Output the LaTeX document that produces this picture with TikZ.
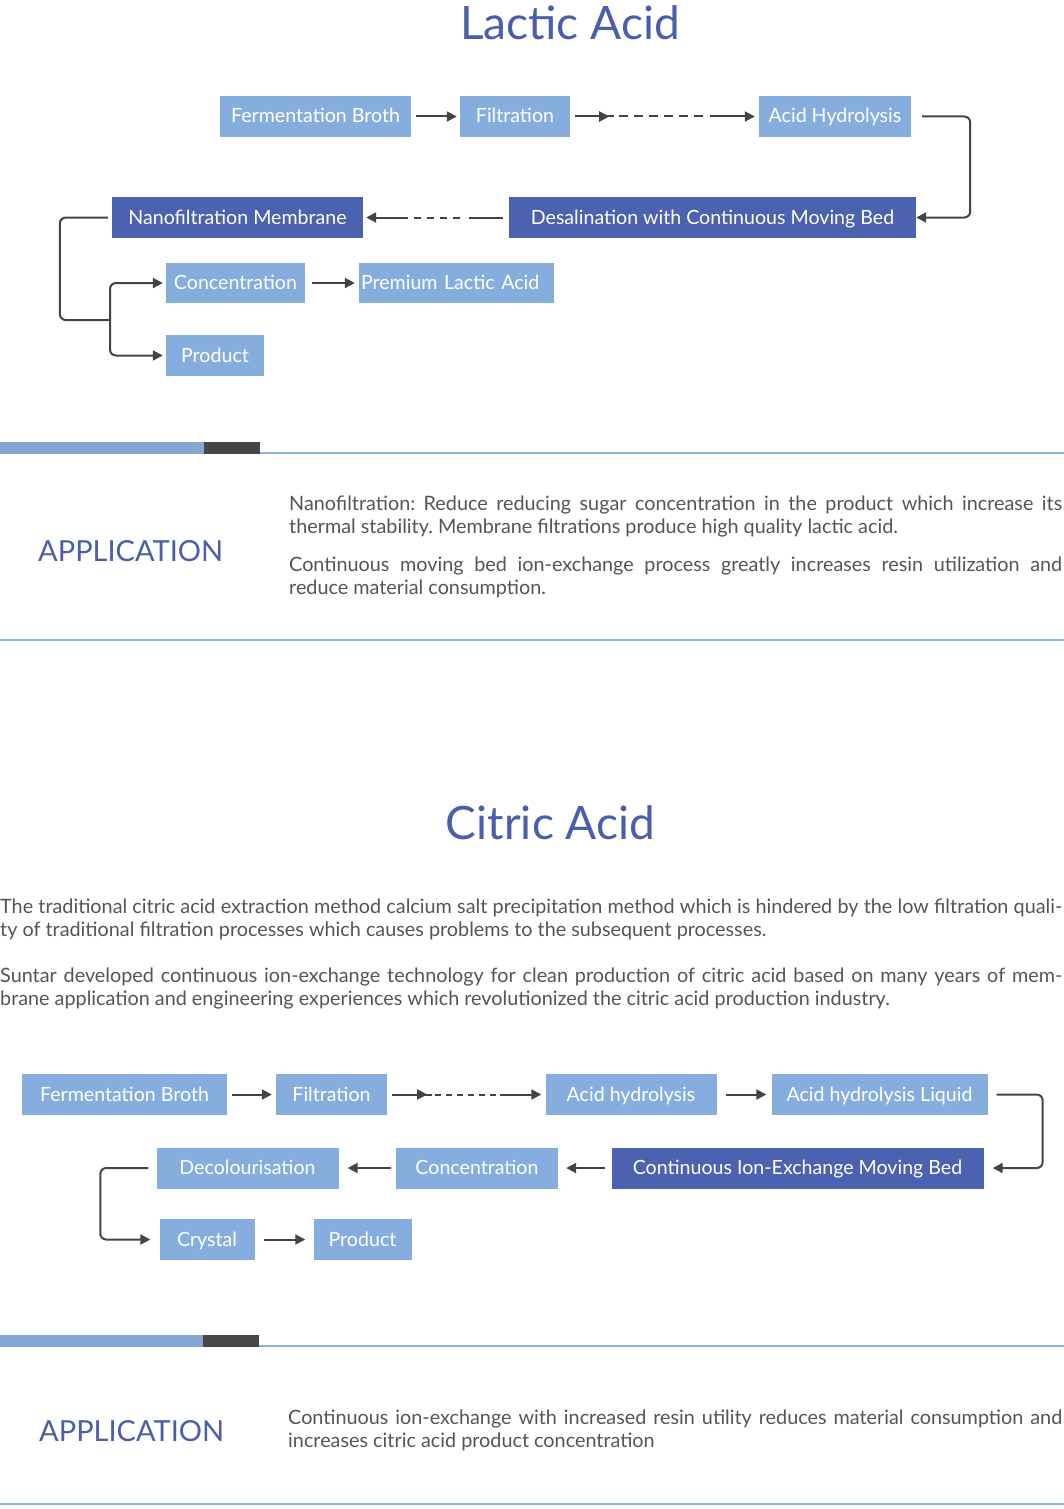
\documentclass[tikz,border=0pt]{standalone}
\usepackage{fontspec}
\setmainfont{Lato}
\usetikzlibrary{arrows.meta,decorations.markings}

\definecolor{titleblue}{HTML}{4A5EAD}
\definecolor{boxdark}{HTML}{4A62AF}
\definecolor{boxlight}{HTML}{85AEDF}
\definecolor{arrowgray}{HTML}{444444}
\definecolor{textgray}{HTML}{555555}
\definecolor{barblue}{HTML}{85A6D4}
\definecolor{bardark}{HTML}{474747}
\definecolor{rulecol}{HTML}{8DB0DD}

\setlength{\parindent}{0pt}
\frenchspacing

\begin{document}
\begin{tikzpicture}[
  x=1pt,y=-1pt,
  box/.style={
    fill=boxlight,
    text=white,
    font=\fontsize{19.6}{23}\selectfont,
    minimum height=41pt,
    inner sep=0pt,
    text height=16pt,
    text depth=3pt,
  },
  darkbox/.style={box,fill=boxdark},
  title/.style={text=titleblue,font=\fontsize{46}{50}\selectfont,inner sep=0pt,anchor=base},
  apptitle/.style={text=titleblue,font=\fontsize{29}{34}\selectfont,inner sep=0pt,anchor=base west},
  para/.style={text=textgray,font=\fontsize{19.8}{23}\selectfont,inner sep=0pt,anchor=north west,align=justify},
  link/.style={draw=arrowgray,line width=2pt},
  flow/.style={link,-{Triangle[length=10pt,width=10pt]},shorten <=5pt,shorten >=4pt},
  midtip/.style={
    postaction={decorate},
    decoration={markings,mark=at position #1 with {\arrow{Triangle[length=10pt,width=10pt]}}}
  },
]
\useasboundingbox (0,0) rectangle (1064,1509);
\fill[white] (0,0) rectangle (1064,1509);

% lactic acid
\node[title] (ltitle) at (570,40) {Lactic Acid};

\node[box,minimum width=191pt] (lfb) at (315.5,116.5) {Fermentation Broth};
\node[box,minimum width=110pt] (lfilt) at (515,116.5) {Filtration};
\node[box,minimum width=152pt] (lacid) at (835,116.5) {Acid Hydrolysis};
\node[darkbox,minimum width=407pt] (ldesal) at (712.5,217.5) {Desalination with Continuous Moving Bed};
\node[darkbox,minimum width=251pt] (lnano) at (237.5,217.5) {Nanofiltration Membrane};
\node[box,minimum width=139pt,minimum height=40pt] (lconc) at (235.5,283) {Concentration};
\node[box,text width=191pt,inner xsep=2pt,align=left,minimum height=40pt] (lprem) at (456.5,283) {Premium Lactic Acid};
\node[box,minimum width=98pt] (lprod) at (215,355.5) {Product};
\coordinate (lsplit) at (110,320);

\draw[flow,shorten >=3pt] (lfb) -- (lfilt);
\draw[flow,midtip=39pt,dash pattern=on 39pt off 5pt on 9pt off 6pt on 9pt off 6pt on 9pt off 6pt on 9pt off 6pt on 9pt off 6pt on 9pt off 7pt on 80pt] (lfilt) -- (lacid);
\draw[flow,rounded corners=6pt,shorten <=11pt,shorten >=0pt] (lacid.east) -- ++(59,0) |- (ldesal.east);
\draw[flow,shorten <=6pt,shorten >=3pt,dash pattern=on 34pt off 9pt on 7pt off 6pt on 7pt off 6pt on 7pt off 6pt on 7pt off 6pt on 100pt] (ldesal) -- (lnano);
\draw[link,rounded corners=6pt,shorten <=4pt] (lnano.west) -- ++(-52,0) |- (lsplit);
\draw[flow,rounded corners=6pt,shorten <=0pt,shorten >=3pt] (lsplit) |- (lconc.west);
\draw[flow,rounded corners=6pt,shorten <=0pt,shorten >=3pt] (lsplit) |- (lprod.west);
\draw[flow,shorten <=7pt] (lconc) -- (lprem);

% separator
\fill[barblue] (0,442) rectangle (204,454);
\fill[bardark] (204,442) rectangle (260,454);
\draw[rulecol,line width=1.5pt] (260,453) -- (1064,453);

\node[apptitle] (lapp) at (38,561) {APPLICATION};
\node[para,text width=773pt] (lnote1) at (289,496) {Nanofiltration: Reduce reducing sugar concentration in the product which increase its\linebreak thermal stability. Membrane filtrations produce high quality lactic acid.};
\node[para,text width=773pt] (lnote2) at (289,557) {Continuous moving bed ion-exchange process greatly increases resin utilization and\linebreak reduce material consumption.};

\draw[rulecol,line width=2pt] (0,640) -- (1064,640);

% citric acid
\node[title] (ctitle) at (550.5,839) {Citric Acid};

\node[para,text width=1062pt] (cnote1) at (0,899) {The traditional citric acid extraction method calcium salt precipitation method which is hindered by the low filtration quali-\linebreak ty of traditional filtration processes which causes problems to the subsequent processes.};
\node[para,text width=1062pt] (cnote2) at (0,968) {Suntar developed continuous ion-exchange technology for clean production of citric acid based on many years of mem-\linebreak brane application and engineering experiences which revolutionized the citric acid production industry.};

\node[box,minimum width=205pt] (cfb) at (124.5,1094.5) {Fermentation Broth};
\node[box,minimum width=111pt] (cfilt) at (331.5,1094.5) {Filtration};
\node[box,minimum width=171pt] (cacid) at (631,1094.5) {Acid hydrolysis};
\node[box,minimum width=216pt] (cliq) at (879.5,1094.5) {Acid hydrolysis Liquid};
\node[box,minimum width=182pt] (cdecol) at (247.5,1168) {Decolourisation};
\node[box,minimum width=162pt] (cconc) at (477,1168) {Concentration};
\node[darkbox,minimum width=372pt] (cion) at (797.5,1168) {Continuous Ion-Exchange Moving Bed};
\node[box,minimum width=95pt] (ccryst) at (207,1239.5) {Crystal};
\node[box,minimum width=98pt] (cprod) at (362.5,1239.5) {Product};

\draw[flow] (cfb) -- (cfilt);
\draw[flow,midtip=40pt,dash pattern=on 40pt off 3pt on 6pt off 5pt on 6pt off 5pt on 6pt off 5pt on 6pt off 5pt on 6pt off 5pt on 6pt off 4pt on 80pt] (cfilt) -- (cacid);
\draw[flow,shorten <=9pt,shorten >=5pt] (cacid) -- (cliq);
\draw[flow,rounded corners=6pt,shorten <=9pt,shorten >=9pt] (cliq.east) -- ++(55,0) |- (cion.east);
\draw[flow,shorten <=6pt,shorten >=8pt] (cion) -- (cconc);
\draw[flow,shorten <=5pt,shorten >=9pt] (cconc) -- (cdecol);
\draw[flow,rounded corners=6pt,shorten <=8pt,shorten >=9pt] (cdecol.west) -- ++(-56,0) |- (ccryst.west);
\draw[flow,shorten <=9pt,shorten >=8pt] (ccryst) -- (cprod);

% separator
\fill[barblue] (0,1335) rectangle (203,1347);
\fill[bardark] (203,1335) rectangle (259,1347);
\draw[rulecol,line width=1.5pt] (259,1346) -- (1064,1346);

\node[apptitle] (capp) at (39,1441) {APPLICATION};
\node[para,text width=774pt] (cnote) at (288,1410) {Continuous ion-exchange with increased resin utility reduces material consumption and\linebreak increases citric acid product concentration};

\draw[rulecol,line width=2pt] (0,1504) -- (1064,1504);
\end{tikzpicture}
\end{document}
